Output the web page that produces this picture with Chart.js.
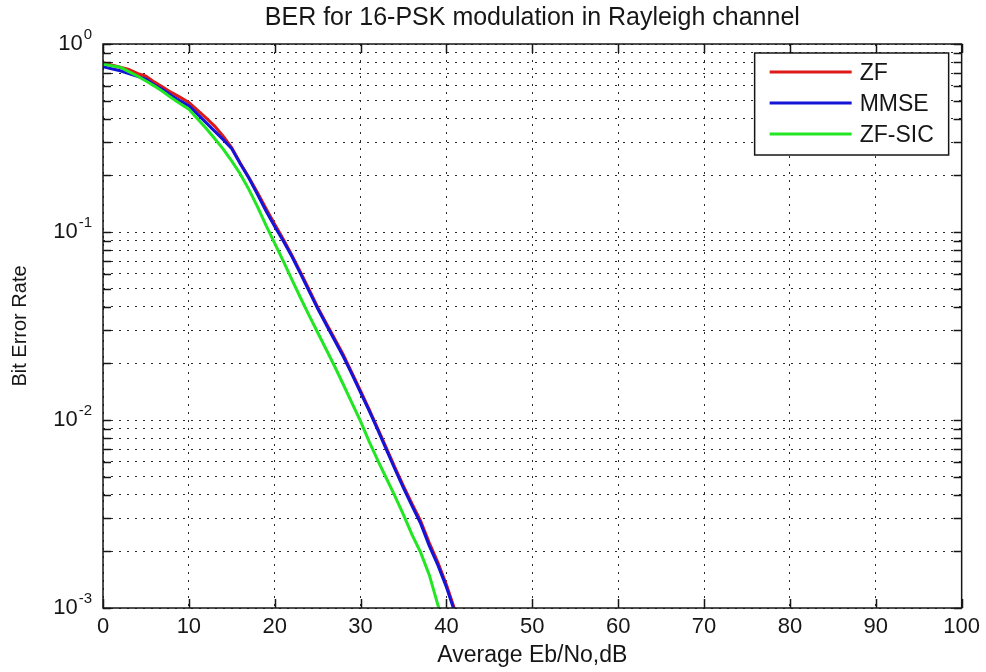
<!DOCTYPE html>
<html>
<head>
<meta charset="utf-8">
<title>BER for 16-PSK modulation in Rayleigh channel</title>
<script src="https://cdn.jsdelivr.net/npm/chart.js@4.4.1/dist/chart.umd.min.js"></script>
<style>
  html, body { margin: 0; padding: 0; background: #fff; }
  #wrap { position: relative; width: 986px; height: 672px; }
</style>
</head>
<body>
<div id="wrap"><canvas id="berChart"></canvas></div>
<script>
/* BER vs Eb/No — 16-PSK over Rayleigh fading, ZF / MMSE / ZF-SIC receivers */

const EBNO_DB = [0, 1, 2, 3, 4, 5, 6, 7, 8, 9, 10, 11, 12, 13, 14, 15, 16, 17, 18, 19, 20,
  21, 22, 23, 24, 25, 26, 27, 28, 29, 30, 31, 32, 33, 34, 35, 36, 37, 38, 39, 40, 41, 42];

const BER_ZF = [0.795, 0.773, 0.752, 0.733, 0.698, 0.674, 0.627, 0.589, 0.551, 0.520, 0.489,
  0.445, 0.405, 0.366, 0.323, 0.280, 0.232, 0.195, 0.162, 0.133, 0.110,
  0.0915, 0.0752, 0.0612, 0.0495, 0.0398, 0.0327, 0.0270, 0.0222, 0.0178, 0.0143,
  0.0114, 0.00900, 0.00710, 0.00560, 0.00445, 0.00358, 0.00290, 0.00222, 0.00175, 0.00133,
  0.00097, 0.00073];

const BER_MMSE = [0.757, 0.739, 0.721, 0.697, 0.673, 0.650, 0.605, 0.570, 0.531, 0.498, 0.470,
  0.424, 0.382, 0.344, 0.310, 0.277, 0.230, 0.193, 0.158, 0.129, 0.107,
  0.0895, 0.0741, 0.0601, 0.0485, 0.0392, 0.0321, 0.0264, 0.0217, 0.0175, 0.0140,
  0.0112, 0.00885, 0.00695, 0.00547, 0.00434, 0.00348, 0.00281, 0.00214, 0.00169, 0.00129,
  0.00094, 0.00071];

const BER_ZFSIC = [0.783, 0.767, 0.752, 0.713, 0.676, 0.636, 0.597, 0.557, 0.516, 0.481, 0.450,
  0.400, 0.356, 0.314, 0.276, 0.238, 0.203, 0.168, 0.136, 0.108, 0.0870,
  0.0700, 0.0558, 0.0447, 0.0360, 0.0292, 0.0237, 0.0192, 0.0154, 0.0123, 0.00982,
  0.00767, 0.00610, 0.00490, 0.00394, 0.00313, 0.00245, 0.00197, 0.00150, 0.00104, 0.00074];

const SERIES_NAMES = ['ZF', 'MMSE', 'ZF-SIC'];
const SERIES_COLORS = ['#dd1a1a', '#1414d8', '#22e622'];

const X_TICKS = [0, 10, 20, 30, 40, 50, 60, 70, 80, 90, 100];
const Y_DECADES = [-3, -2, -1, 0];
const Y_MINOR = [1, 2, 3, 4, 5, 6, 7, 8, 9];

const TITLE = 'BER for 16-PSK modulation in Rayleigh channel';
const FONT = '"Liberation Sans", Arial, sans-serif';
const INK = '#161616';
const GRID = '#2a2a2a';

// every 1..9 x 10^n between 1e-3 and 1, plus the top decade
const Y_GRID = [];
Y_DECADES.slice(0, -1).forEach(e => {
  Y_MINOR.forEach(m => Y_GRID.push(Number((m * Math.pow(10, e)).toPrecision(3))));
});
Y_GRID.push(1);

const pts = ys => ys.map((v, i) => ({ x: EBNO_DB[i], y: v }));

/* ─── box, inward ticks, 10^n labels, title, legend ─── */
const matlabAxes = {
  id: 'matlabAxes',
  afterDraw(chart) {
    const { ctx, chartArea: a, scales: { x, y } } = chart;
    ctx.save();

    ctx.fillStyle = INK;
    ctx.font = `25px ${FONT}`;
    ctx.textAlign = 'center';
    ctx.textBaseline = 'alphabetic';
    ctx.fillText(TITLE, (a.left + a.right) / 2, a.top - 19);

    ctx.strokeStyle = INK;
    ctx.lineWidth = 1.5;
    ctx.strokeRect(a.left, a.top, a.right - a.left, a.bottom - a.top);

    ctx.beginPath();
    X_TICKS.forEach(v => {
      const px = Math.round(x.getPixelForValue(v)) + 0.5;
      ctx.moveTo(px, a.bottom); ctx.lineTo(px, a.bottom - 9);
      ctx.moveTo(px, a.top); ctx.lineTo(px, a.top + 9);
    });
    Y_GRID.forEach(v => {
      const py = Math.round(y.getPixelForValue(v)) + 0.5;
      ctx.moveTo(a.left, py); ctx.lineTo(a.left + 8, py);
      ctx.moveTo(a.right, py); ctx.lineTo(a.right - 8, py);
    });
    ctx.stroke();

    Y_DECADES.forEach(e => {
      const py = y.getPixelForValue(Math.pow(10, e));
      const exp = String(e);
      ctx.font = `15px ${FONT}`;
      const ex = a.left - 11 - ctx.measureText(exp).width;
      ctx.textAlign = 'left';
      ctx.textBaseline = 'alphabetic';
      ctx.fillText(exp, ex, py - 5);
      ctx.font = `22px ${FONT}`;
      ctx.textAlign = 'right';
      ctx.textBaseline = 'middle';
      ctx.fillText('10', ex - 1, py);
    });

    // legend box, top right inside the axes
    const lx = a.right - 207, ly = a.top + 9, lw = 194, lh = 102;
    ctx.fillStyle = '#fff';
    ctx.fillRect(lx, ly, lw, lh);
    ctx.strokeStyle = INK;
    ctx.lineWidth = 1.5;
    ctx.strokeRect(lx, ly, lw, lh);
    SERIES_NAMES.forEach((name, i) => {
      const ry = ly + 19 + i * 31;
      ctx.strokeStyle = SERIES_COLORS[i];
      ctx.lineWidth = 3;
      ctx.beginPath();
      ctx.moveTo(lx + 15, ry);
      ctx.lineTo(lx + 97, ry);
      ctx.stroke();
      ctx.fillStyle = INK;
      ctx.font = `23px ${FONT}`;
      ctx.textAlign = 'left';
      ctx.textBaseline = 'middle';
      ctx.fillText(name, lx + 105, ry + 2);
    });

    ctx.restore();
  }
};

const series = [BER_ZF, BER_MMSE, BER_ZFSIC];

new Chart(document.getElementById('berChart'), {
  type: 'line',
  data: {
    datasets: series.map((ys, i) => ({
      label: SERIES_NAMES[i],
      data: pts(ys),
      borderColor: SERIES_COLORS[i],
      backgroundColor: SERIES_COLORS[i],
      borderWidth: 3,
      pointRadius: 0,
      tension: 0,
      fill: false,
      order: 3 - i
    }))
  },
  options: {
    responsive: true,
    maintainAspectRatio: false,
    animation: false,
    layout: { padding: { top: 44, right: 24, bottom: 0, left: 0 } },
    plugins: {
      legend: { display: false },
      tooltip: { enabled: false },
      title: { display: false }
    },
    scales: {
      x: {
        type: 'linear',
        min: 0,
        max: 100,
        afterBuildTicks: s => { s.ticks = X_TICKS.map(v => ({ value: v })); },
        afterFit: s => { s.height = 64; },
        grid: { color: GRID, lineWidth: 1, drawTicks: false },
        border: { display: false, dash: [2, 6] },
        ticks: { color: INK, font: { family: FONT, size: 22 }, padding: 6, maxRotation: 0, autoSkip: false },
        title: {
          display: true, text: 'Average Eb/No,dB', color: INK,
          font: { family: FONT, size: 23 }, padding: { top: 0, bottom: 3 }
        }
      },
      y: {
        type: 'logarithmic',
        min: 0.001,
        max: 1,
        afterBuildTicks: s => { s.ticks = Y_GRID.map(v => ({ value: v })); },
        afterFit: s => { s.width = 103; },
        grid: { color: GRID, lineWidth: 1, drawTicks: false },
        border: { display: false, dash: [2, 6] },
        ticks: { display: false },
        title: {
          display: true, text: 'Bit Error Rate', color: INK,
          font: { family: FONT, size: 20 }, padding: { top: 8, bottom: 0 }
        }
      }
    }
  },
  plugins: [matlabAxes]
});
</script>
</body>
</html>
